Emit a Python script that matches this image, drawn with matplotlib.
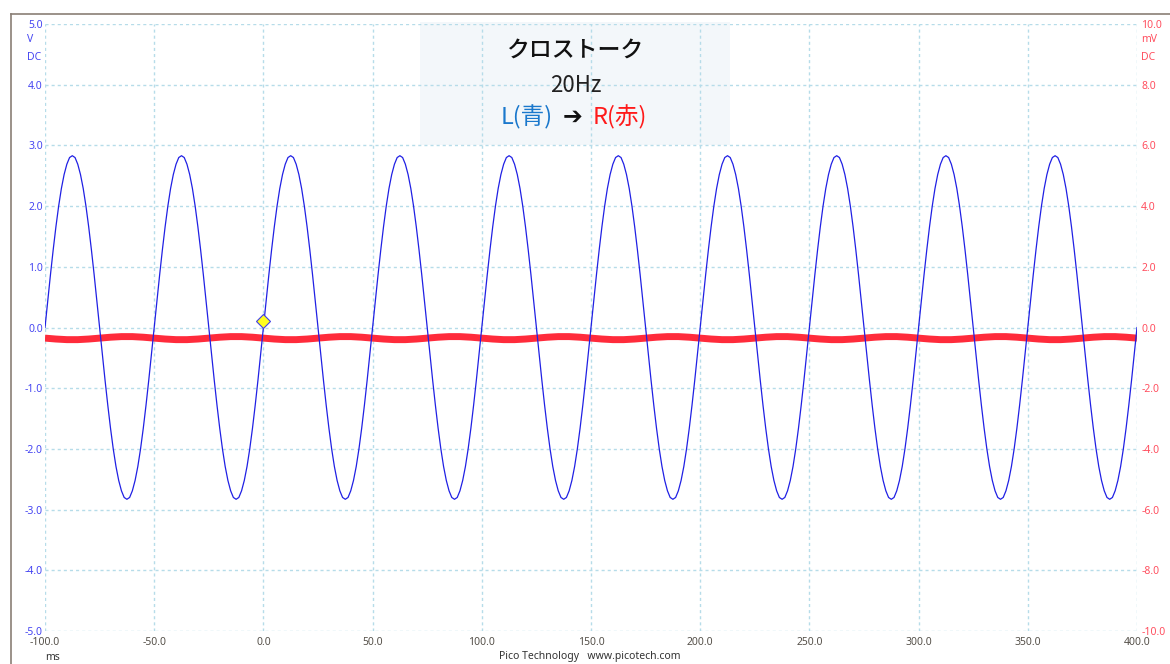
import numpy as np
import matplotlib
matplotlib.use("Agg")
import matplotlib.pyplot as plt
from matplotlib.patches import Rectangle
from matplotlib.lines import Line2D

# ---------------- data ----------------
time_ms = np.linspace(-100, 400, 401)          # sample times, 1.25 ms apart
blue_v = [
    0.00, 0.44, 0.87, 1.28, 1.66, 2.00, 2.29, 2.52, 2.69, 2.80, 2.83, 2.80, 2.69, 2.52, 2.29, 2.00, 1.66, 1.28, 0.87, 0.44,
    0.00, -0.44, -0.87, -1.28, -1.66, -2.00, -2.29, -2.52, -2.69, -2.80, -2.83, -2.80, -2.69, -2.52, -2.29, -2.00, -1.66, -1.28, -0.87, -0.44,
    0.00, 0.44, 0.87, 1.28, 1.66, 2.00, 2.29, 2.52, 2.69, 2.80, 2.83, 2.80, 2.69, 2.52, 2.29, 2.00, 1.66, 1.28, 0.87, 0.44,
    0.00, -0.44, -0.87, -1.28, -1.66, -2.00, -2.29, -2.52, -2.69, -2.80, -2.83, -2.80, -2.69, -2.52, -2.29, -2.00, -1.66, -1.28, -0.87, -0.44,
    0.00, 0.44, 0.87, 1.28, 1.66, 2.00, 2.29, 2.52, 2.69, 2.80, 2.83, 2.80, 2.69, 2.52, 2.29, 2.00, 1.66, 1.28, 0.87, 0.44,
    0.00, -0.44, -0.87, -1.28, -1.66, -2.00, -2.29, -2.52, -2.69, -2.80, -2.83, -2.80, -2.69, -2.52, -2.29, -2.00, -1.66, -1.28, -0.87, -0.44,
    0.00, 0.44, 0.87, 1.28, 1.66, 2.00, 2.29, 2.52, 2.69, 2.80, 2.83, 2.80, 2.69, 2.52, 2.29, 2.00, 1.66, 1.28, 0.87, 0.44,
    0.00, -0.44, -0.87, -1.28, -1.66, -2.00, -2.29, -2.52, -2.69, -2.80, -2.83, -2.80, -2.69, -2.52, -2.29, -2.00, -1.66, -1.28, -0.87, -0.44,
    0.00, 0.44, 0.87, 1.28, 1.66, 2.00, 2.29, 2.52, 2.69, 2.80, 2.83, 2.80, 2.69, 2.52, 2.29, 2.00, 1.66, 1.28, 0.87, 0.44,
    0.00, -0.44, -0.87, -1.28, -1.66, -2.00, -2.29, -2.52, -2.69, -2.80, -2.83, -2.80, -2.69, -2.52, -2.29, -2.00, -1.66, -1.28, -0.87, -0.44,
    0.00, 0.44, 0.87, 1.28, 1.66, 2.00, 2.29, 2.52, 2.69, 2.80, 2.83, 2.80, 2.69, 2.52, 2.29, 2.00, 1.66, 1.28, 0.87, 0.44,
    0.00, -0.44, -0.87, -1.28, -1.66, -2.00, -2.29, -2.52, -2.69, -2.80, -2.83, -2.80, -2.69, -2.52, -2.29, -2.00, -1.66, -1.28, -0.87, -0.44,
    0.00, 0.44, 0.87, 1.28, 1.66, 2.00, 2.29, 2.52, 2.69, 2.80, 2.83, 2.80, 2.69, 2.52, 2.29, 2.00, 1.66, 1.28, 0.87, 0.44,
    0.00, -0.44, -0.87, -1.28, -1.66, -2.00, -2.29, -2.52, -2.69, -2.80, -2.83, -2.80, -2.69, -2.52, -2.29, -2.00, -1.66, -1.28, -0.87, -0.44,
    0.00, 0.44, 0.87, 1.28, 1.66, 2.00, 2.29, 2.52, 2.69, 2.80, 2.83, 2.80, 2.69, 2.52, 2.29, 2.00, 1.66, 1.28, 0.87, 0.44,
    0.00, -0.44, -0.87, -1.28, -1.66, -2.00, -2.29, -2.52, -2.69, -2.80, -2.83, -2.80, -2.69, -2.52, -2.29, -2.00, -1.66, -1.28, -0.87, -0.44,
    0.00, 0.44, 0.87, 1.28, 1.66, 2.00, 2.29, 2.52, 2.69, 2.80, 2.83, 2.80, 2.69, 2.52, 2.29, 2.00, 1.66, 1.28, 0.87, 0.44,
    0.00, -0.44, -0.87, -1.28, -1.66, -2.00, -2.29, -2.52, -2.69, -2.80, -2.83, -2.80, -2.69, -2.52, -2.29, -2.00, -1.66, -1.28, -0.87, -0.44,
    0.00, 0.44, 0.87, 1.28, 1.66, 2.00, 2.29, 2.52, 2.69, 2.80, 2.83, 2.80, 2.69, 2.52, 2.29, 2.00, 1.66, 1.28, 0.87, 0.44,
    0.00, -0.44, -0.87, -1.28, -1.66, -2.00, -2.29, -2.52, -2.69, -2.80, -2.83, -2.80, -2.69, -2.52, -2.29, -2.00, -1.66, -1.28, -0.87, -0.44,
    0.00,
]

red_time_ms = np.linspace(-100, 400, 101)      # sample times, 5 ms apart
red_mv = [
    -0.35, -0.38, -0.40, -0.40, -0.38, -0.35, -0.32, -0.30, -0.30, -0.32,
    -0.35, -0.38, -0.40, -0.40, -0.38, -0.35, -0.32, -0.30, -0.30, -0.32,
    -0.35, -0.38, -0.40, -0.40, -0.38, -0.35, -0.32, -0.30, -0.30, -0.32,
    -0.35, -0.38, -0.40, -0.40, -0.38, -0.35, -0.32, -0.30, -0.30, -0.32,
    -0.35, -0.38, -0.40, -0.40, -0.38, -0.35, -0.32, -0.30, -0.30, -0.32,
    -0.35, -0.38, -0.40, -0.40, -0.38, -0.35, -0.32, -0.30, -0.30, -0.32,
    -0.35, -0.38, -0.40, -0.40, -0.38, -0.35, -0.32, -0.30, -0.30, -0.32,
    -0.35, -0.38, -0.40, -0.40, -0.38, -0.35, -0.32, -0.30, -0.30, -0.32,
    -0.35, -0.38, -0.40, -0.40, -0.38, -0.35, -0.32, -0.30, -0.30, -0.32,
    -0.35, -0.38, -0.40, -0.40, -0.38, -0.35, -0.32, -0.30, -0.30, -0.32,
    -0.35,
]

trigger_t = [0.0]
trigger_v = [0.107]

x_ticks = [-100, -50, 0, 50, 100, 150, 200, 250, 300, 350, 400]
x_labels = ["-100.0", "-50.0", "0.0", "50.0", "100.0", "150.0", "200.0",
            "250.0", "300.0", "350.0", "400.0"]
left_ticks = [-5, -4, -3, -2, -1, 0, 1, 2, 3, 4, 5]
left_labels = ["-5.0", "-4.0", "-3.0", "-2.0", "-1.0", "0.0", "1.0", "2.0",
               "3.0", "4.0", "5.0"]
right_ticks = [-10, -8, -6, -4, -2, 0, 2, 4, 6, 8, 10]
right_labels = ["-10.0", "-8.0", "-6.0", "-4.0", "-2.0", "0.0", "2.0", "4.0",
                "6.0", "8.0", "10.0"]

title_text = "クロストーク"
freq_text = "20Hz"
left_ch_text = "L(青)"
arrow_text = "➔"
right_ch_text = "R(赤)"

# ---------------- styling ----------------
W, H = 1170, 664
BLUE = "#2020e4"
RED = "#ff2b3b"
LBL_BLUE = "#4646f2"
LBL_RED = "#ff4f5f"
GRID = "#b6dce9"
XLBL = "#555049"
TICK_FONT = ["Noto Sans", "DejaVu Sans"]
CJK_FONT = ["Noto Sans CJK JP", "DejaVu Sans"]

fig = plt.figure(figsize=(W / 100, H / 100), dpi=100)
fig.patch.set_facecolor("white")
rect = [45 / W, 1 - 631 / H, 1092 / W, 607 / H]

ax_r = fig.add_axes(rect, zorder=1)
ax = fig.add_axes(rect, zorder=2, sharex=ax_r)
ax.patch.set_visible(False)

for a in (ax, ax_r):
    for s in a.spines.values():
        s.set_visible(False)

# right (mV) axis : grid, title box, red trace
ax_r.set_xlim(-100, 400)
ax_r.set_ylim(-10, 10)
ax_r.set_yticks(right_ticks)
ax_r.set_yticklabels(right_labels, fontsize=7.5, family=TICK_FONT, color=LBL_RED)
ax_r.yaxis.tick_right()
ax_r.tick_params(axis="y", length=0, pad=3)
ax_r.tick_params(axis="x", length=0, labelbottom=False)
ax_r.grid(True, color=GRID, linestyle=(0, (2.2, 2.2)), linewidth=1.0, zorder=1.5)
ax_r.add_patch(Rectangle((71.7, 6.0), 141.9, 4.07, facecolor="#f3f7fa",
                         edgecolor="none", zorder=0.5, clip_on=False))
ax_r.plot(red_time_ms, red_mv, color=RED, linewidth=5.0, solid_capstyle="butt",
          solid_joinstyle="round", zorder=3)

# left (V) axis : blue trace, trigger marker
ax.set_ylim(-5, 5)
ax.set_xticks(x_ticks)
ax.set_xticklabels(x_labels, fontsize=7.5, family=TICK_FONT, color=XLBL)
ax.set_yticks(left_ticks)
ax.set_yticklabels(left_labels, fontsize=7.5, family=TICK_FONT, color=LBL_BLUE)
ax.tick_params(axis="y", length=0, pad=1.5)
ax.tick_params(axis="x", length=0, pad=4)
ax.plot(time_ms, blue_v, color=BLUE, linewidth=0.9, zorder=3)
ax.plot(trigger_t, trigger_v, linestyle="none", marker="D", markersize=7,
        markerfacecolor="#ffff1e", markeredgecolor="#4040e8",
        markeredgewidth=0.8, zorder=4, clip_on=False)

# axis unit texts
fig.text(27 / W, 1 - 40 / H, "V", fontsize=7.5, family=TICK_FONT, color=LBL_BLUE,
         ha="left", va="center")
fig.text(27 / W, 1 - 57 / H, "DC", fontsize=7.5, family=TICK_FONT, color=LBL_BLUE,
         ha="left", va="center")
fig.text(1141 / W, 1 - 40 / H, "mV", fontsize=7.5, family=TICK_FONT, color=LBL_RED,
         ha="left", va="center")
fig.text(1141 / W, 1 - 57 / H, "DC", fontsize=7.5, family=TICK_FONT, color=LBL_RED,
         ha="left", va="center")
fig.text(53 / W, 1 - 657 / H, "ms", fontsize=7.5, family=TICK_FONT, color="#333333",
         ha="center", va="center")
fig.text(590 / W, 1 - 657 / H, "Pico Technology   www.picotech.com", fontsize=7.5,
         family=TICK_FONT, color="#333333", ha="center", va="center")

# title box texts
fig.text(575 / W, 1 - 50 / H, title_text, fontsize=16.5, family=CJK_FONT,
         color="#111111", ha="center", va="center", fontweight="medium")
fig.text(576 / W, 1 - 86 / H, freq_text, fontsize=16, family=CJK_FONT,
         color="#222222", ha="center", va="center")
fig.text(527 / W, 1 - 117 / H, left_ch_text, fontsize=17, family=CJK_FONT,
         color="#1a78cc", ha="center", va="center")
fig.text(573 / W, 1 - 117 / H, arrow_text, fontsize=17, family=["DejaVu Sans"],
         color="#111111", ha="center", va="center", fontweight="bold")
fig.text(620 / W, 1 - 117 / H, right_ch_text, fontsize=17, family=CJK_FONT,
         color="#ff1a1a", ha="center", va="center")

# outer frame (top and left edge)
frame_c = "#8a7f76"
fig.add_artist(Line2D([11 / W, 1.0], [1 - 14 / H, 1 - 14 / H],
                      transform=fig.transFigure, color=frame_c, linewidth=1.2))
fig.add_artist(Line2D([11 / W, 11 / W], [0.0, 1 - 14 / H],
                      transform=fig.transFigure, color=frame_c, linewidth=1.2))

fig.savefig("out.png", dpi=100, facecolor="white")
